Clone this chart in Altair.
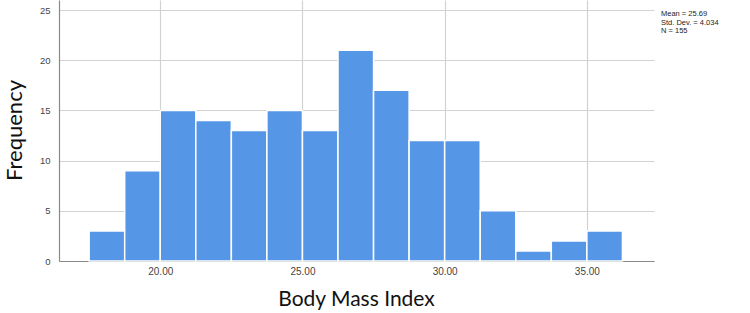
import altair as alt
import pandas as pd

bin_start = [17.5, 18.75, 20.0, 21.25, 22.5, 23.75, 25.0, 26.25, 27.5, 28.75, 30.0, 31.25, 32.5, 33.75, 35.0]
bin_end = [18.75, 20.0, 21.25, 22.5, 23.75, 25.0, 26.25, 27.5, 28.75, 30.0, 31.25, 32.5, 33.75, 35.0, 36.25]
counts = [3, 9, 15, 14, 13, 15, 13, 21, 17, 12, 12, 5, 1, 2, 3]
x_ticks = [20, 25, 30, 35]
y_ticks = [0, 5, 10, 15, 20, 25]
stats_lines = ["Mean = 25.69", "Std. Dev. = 4.034", "N = 155"]

df = pd.DataFrame({"start": bin_start, "end": bin_end, "count": counts})

x_scale = alt.Scale(domain=[16.44, 37.36], nice=False, zero=False)
y_scale = alt.Scale(domain=[0, 26], nice=False)

bars = alt.Chart(df).mark_rect(color="#5596E6", stroke="white", strokeWidth=1.5).encode(
    x=alt.X("start:Q", scale=x_scale,
            axis=alt.Axis(values=x_ticks, format=".2f", title="Body Mass Index",
                          grid=True, gridColor="#d2d2d2", gridWidth=1.2,
                          domainColor="#8a8a8a", domainWidth=1.2, ticks=False,
                          labelFontSize=10, labelColor="#444", labelFont="Liberation Sans",
                          labelPadding=5,
                          titleFont="Lato", titleFontSize=21, titleFontWeight="normal",
                          titleColor="#111", titleX=297, titleY=38,
                          titleBaseline="middle", titleAlign="center")),
    x2="end:Q",
    y=alt.Y("count:Q", scale=y_scale,
            axis=alt.Axis(values=y_ticks, title="Frequency",
                          grid=True, gridColor="#d2d2d2", gridWidth=1.2,
                          domainColor="#8a8a8a", domainWidth=1.2, ticks=False,
                          labelFontSize=9.5, labelColor="#444", labelFont="Liberation Sans",
                          labelPadding=9,
                          titleFont="Lato", titleFontSize=22, titleFontWeight="normal",
                          titleColor="#111", titleX=-45, titleY=130, titleAngle=-90,
                          titleBaseline="middle", titleAlign="center")),
    y2=alt.datum(0),
)

stats_df = pd.DataFrame({"text": stats_lines, "i": list(range(len(stats_lines)))})
stats = alt.Chart(stats_df).mark_text(
    align="left", baseline="middle", fontSize=7.5, font="Liberation Sans", color="#222"
).encode(
    x=alt.value(602),
    y=alt.Y("i:Q", scale=alt.Scale(domain=[0, 2], range=[14, 31]), axis=None),
    text="text:N",
)

chart = alt.layer(bars, stats).resolve_scale(y="independent").properties(
    width=595, height=261,
    padding={"left": 59, "top": 0, "right": 96, "bottom": 52},
    autosize=alt.AutoSizeParams(type="none"),
).configure_view(stroke=None)

chart.save("out.html", embed_options={"renderer": "svg", "actions": False})
